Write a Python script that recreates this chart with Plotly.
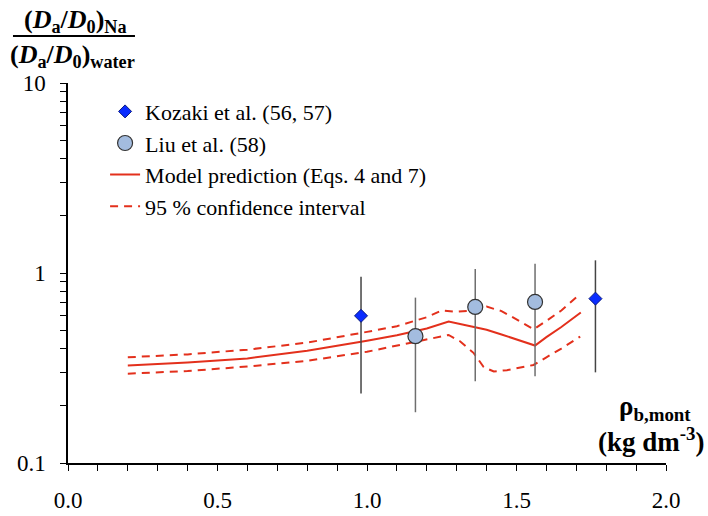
import plotly.graph_objects as go

# Data
koz_x = [0.98, 1.764]
koz_y = [0.595, 0.733]
koz_hi = [0.957, 1.166]
koz_lo = [0.232, 0.300]

liu_x = [1.162, 1.362, 1.562]
liu_y = [0.465, 0.663, 0.704]
liu_hi = [0.742, 1.05, 1.12]
liu_lo = [0.185, 0.269, 0.286]

model_x = [0.2, 0.4, 0.6, 0.8, 1.0, 1.1, 1.2, 1.273, 1.35, 1.4, 1.45, 1.5, 1.562, 1.6, 1.65, 1.715]
model_y = [0.326, 0.338, 0.355, 0.39, 0.44, 0.47, 0.51, 0.555, 0.523, 0.503, 0.475, 0.448, 0.415, 0.46, 0.52, 0.62]

up_x = [0.2, 0.4, 0.6, 0.8, 1.0, 1.1, 1.2, 1.25, 1.3, 1.35, 1.4, 1.45, 1.5, 1.557, 1.6, 1.65, 1.713]
up_y = [0.36, 0.373, 0.395, 0.43, 0.49, 0.525, 0.585, 0.635, 0.625, 0.635, 0.665, 0.63, 0.57, 0.505, 0.56, 0.635, 0.776]

lo_x = [0.2, 0.4, 0.6, 0.8, 1.0, 1.1, 1.2, 1.273, 1.312, 1.357, 1.39, 1.424, 1.468, 1.557, 1.6, 1.65, 1.713]
lo_y = [0.295, 0.305, 0.322, 0.345, 0.385, 0.415, 0.445, 0.472, 0.436, 0.379, 0.32, 0.303, 0.308, 0.328, 0.36, 0.40, 0.463]

RED = "#e3301c"
FONT = "Liberation Serif, Times New Roman, Times, serif"

fig = go.Figure()

fig.add_trace(go.Scatter(x=up_x, y=up_y, mode="lines", showlegend=False,
                         line=dict(color=RED, width=2, dash="8px,6px")))
fig.add_trace(go.Scatter(x=lo_x, y=lo_y, mode="lines", showlegend=False,
                         line=dict(color=RED, width=2, dash="8px,6px")))
fig.add_trace(go.Scatter(x=model_x, y=model_y, mode="lines", showlegend=False,
                         line=dict(color=RED, width=2)))

fig.add_trace(go.Scatter(
    x=koz_x, y=koz_y, mode="markers", name="Kozaki et al. (56, 57)",
    marker=dict(symbol="diamond", size=10, color="#0a2cff", line=dict(color="#0a1a80", width=1)),
    error_y=dict(type="data", symmetric=False,
                 array=[h - v for h, v in zip(koz_hi, koz_y)],
                 arrayminus=[v - l for l, v in zip(koz_lo, koz_y)],
                 color="#444444", thickness=1.5, width=0)))
fig.add_trace(go.Scatter(
    x=liu_x, y=liu_y, mode="markers", name="Liu et al. (58)",
    marker=dict(symbol="circle", size=15, color="#a3bcdf", line=dict(color="#333333", width=1.2)),
    error_y=dict(type="data", symmetric=False,
                 array=[h - v for h, v in zip(liu_hi, liu_y)],
                 arrayminus=[v - l for l, v in zip(liu_lo, liu_y)],
                 color="#6e6e6e", thickness=1.5, width=0)))

# legend-only line entries
fig.add_trace(go.Scatter(x=[None], y=[None], mode="lines", name="Model prediction (Eqs. 4 and 7)",
                         line=dict(color=RED, width=2)))
fig.add_trace(go.Scatter(x=[None], y=[None], mode="lines", name="95 % confidence interval",
                         line=dict(color=RED, width=2, dash="8px,6px")))

fig.update_layout(
    width=708, height=516,
    margin=dict(l=68, r=42, t=83, b=53),
    plot_bgcolor="white", paper_bgcolor="white",
    font=dict(family=FONT, size=23, color="black"),
    legend=dict(x=0.062, y=0.98, xanchor="left", yanchor="top",
                font=dict(family=FONT, size=22), bgcolor="rgba(0,0,0,0)",
                tracegroupgap=0, itemwidth=30),
    xaxis=dict(range=[0, 2.0], tickmode="array", tickvals=[0, 0.5, 1.0, 1.5, 2.0],
               ticktext=["0.0", "0.5", "1.0", "1.5", "2.0"], automargin=False,
               ticks="outside", ticklen=6, tickwidth=1.3, tickcolor="black",
               showline=True, linecolor="black", linewidth=1.5, showgrid=False, zeroline=False,
               minor=dict(tickmode="array", tickvals=[i / 10 for i in range(21)],
                          ticks="outside", ticklen=6, tickwidth=1.3, tickcolor="black", showgrid=False),
               tickfont=dict(family=FONT, size=23), ticklabelstandoff=10),
    yaxis=dict(type="log", range=[-1, 1], tickmode="array", tickvals=[0.1, 1, 10],
               ticktext=["0.1", "1", "10"], automargin=False,
               ticks="outside", ticklen=6, tickwidth=1.3, tickcolor="black",
               showline=True, linecolor="black", linewidth=1.5, showgrid=False, zeroline=False,
               minor=dict(tickmode="array",
                          tickvals=[m * d for d in (0.1, 1) for m in range(2, 10)],
                          ticks="outside", ticklen=6, tickwidth=1.3, tickcolor="black", showgrid=False),
               tickfont=dict(family=FONT, size=23), ticklabelstandoff=10),
)

# y-axis title as fraction
fig.add_annotation(xref="paper", yref="paper", x=0.013, y=1.163, showarrow=False,
                   text="<b>(<i>D</i><sub>a</sub>/<i>D</i><sub>0</sub>)<sub>Na</sub></b>",
                   font=dict(family=FONT, size=26), xanchor="center", yanchor="middle")
fig.add_annotation(xref="paper", yref="paper", x=0.008, y=1.072, showarrow=False,
                   text="<b>(<i>D</i><sub>a</sub>/<i>D</i><sub>0</sub>)<sub>water</sub></b>",
                   font=dict(family=FONT, size=26), xanchor="center", yanchor="middle")
fig.add_shape(type="line", xref="paper", yref="paper", x0=-0.092, x1=0.112, y0=1.124, y1=1.124,
              line=dict(color="black", width=2))

# x-axis title
fig.add_annotation(xref="paper", yref="paper", x=1.045, y=0.145, showarrow=False,
                   text="<b>ρ<sub>b,mont</sub></b>", font=dict(family=FONT, size=27),
                   xanchor="right", yanchor="middle")
fig.add_annotation(xref="paper", yref="paper", x=1.068, y=0.06, showarrow=False,
                   text="<b>(kg dm<sup>-3</sup>)</b>", font=dict(family=FONT, size=27),
                   xanchor="right", yanchor="middle")

fig.write_html("out.html", config={"displayModeBar": False},
               post_script="document.body.style.margin='0';")
